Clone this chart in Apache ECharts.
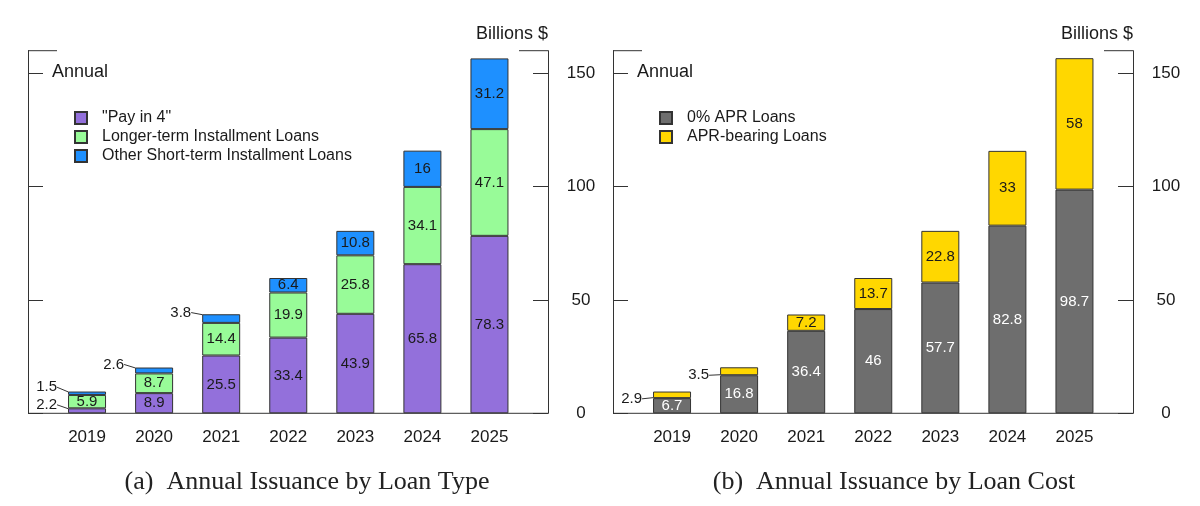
<!DOCTYPE html>
<html lang="en">
<head>
<meta charset="UTF-8" />
<title>Annual issuance</title>
<script src="https://cdn.jsdelivr.net/npm/echarts@6.0.0/dist/echarts.min.js"></script>
<style>
  html, body { margin: 0; padding: 0; background: #fff; }
  #chart { width: 1200px; height: 506px; }
</style>
</head>
<body>
<div id="chart"></div>
<script>
const years = ['2019', '2020', '2021', '2022', '2023', '2024', '2025'];
// (a) by loan type
const payIn4 = [2.2, 8.9, 25.5, 33.4, 43.9, 65.8, 78.3];
const longerTerm = [5.9, 8.7, 14.4, 19.9, 25.8, 34.1, 47.1];
const otherShort = [1.5, 2.6, 3.8, 6.4, 10.8, 16, 31.2];
// (b) by loan cost
const zeroApr = [6.7, 16.8, 36.4, 46, 57.7, 82.8, 98.7];
const aprBearing = [2.9, 3.5, 7.2, 13.7, 22.8, 33, 58];
const yTicks = [0, 50, 100, 150];

const FONT = '"Liberation Sans", Arial, sans-serif';
const INK = '#1a1a1a';
const TOP = 50.7, BOTTOM = 413.3;
const frames = [28, 613];   // left edge of each boxed panel
const FRAME_W = 520;

const chart = echarts.init(document.getElementById('chart'));

// small segments get their label pulled out to the left with a short leader
function sideLabel(indices, dy) {
    return function (p) {
        if (indices.indexOf(p.dataIndex) < 0) return {};
        return {
            x: p.rect.x - 11,
            y: p.rect.y + p.rect.height / 2 + dy,
            align: 'right',
            verticalAlign: 'middle'
        };
    };
}

function bar(name, values, color, panel, opts) {
    opts = opts || {};
    return {
        name: name,
        type: 'bar',
        stack: 'p' + panel,
        xAxisIndex: panel,
        yAxisIndex: panel * 2,
        barWidth: 38,
        data: values,
        itemStyle: { color: color, borderColor: '#333', borderWidth: 1 },
        label: {
            show: true,
            position: 'inside',
            fontFamily: FONT,
            fontSize: 15,
            color: opts.labelColor || INK
        },
        labelLine: { show: !!opts.outside, lineStyle: { color: '#333', width: 1 } },
        labelLayout: opts.outside ? sideLabel(opts.outside, opts.dy) : null,
        emphasis: { disabled: true }
    };
}

const grids = [], xAxes = [], yAxes = [], graphics = [];
frames.forEach(function (fx, i) {
    grids.push({ left: fx + 25.5, top: TOP, width: 469.5, height: BOTTOM - TOP });
    xAxes.push({
        type: 'category', gridIndex: i, data: years,
        axisLine: { show: false }, axisTick: { show: false },
        axisLabel: { color: INK, fontFamily: FONT, fontSize: 17, margin: 16 }
    });
    const axisBase = {
        type: 'value', gridIndex: i, min: 0, max: 160,
        splitLine: { show: false },
        axisLine: { show: true, lineStyle: { color: '#333', width: 1 } },
        axisTick: { show: true, inside: true, length: 15, customValues: yTicks,
            lineStyle: { color: '#333', width: 1 } }
    };
    yAxes.push(Object.assign({}, axisBase, {
        position: 'left', offset: 25.5, axisLabel: { show: false }
    }));
    yAxes.push(Object.assign({}, axisBase, {
        position: 'right', offset: 25,
        axisLabel: { show: true, customValues: yTicks, align: 'center', margin: 33,
            color: INK, fontFamily: FONT, fontSize: 17 }
    }));
    const line = { stroke: '#333', lineWidth: 1 };
    graphics.push(
        { type: 'line', shape: { x1: fx, y1: TOP, x2: fx + 29, y2: TOP }, style: line },
        { type: 'line', shape: { x1: fx + FRAME_W - 29, y1: TOP, x2: fx + FRAME_W, y2: TOP }, style: line },
        { type: 'line', shape: { x1: fx, y1: BOTTOM, x2: fx + FRAME_W, y2: BOTTOM }, style: line },
        { type: 'text', x: fx + FRAME_W, y: 34,
          style: { text: 'Billions $', fill: INK, font: '18px ' + FONT, textAlign: 'right', textVerticalAlign: 'middle' } },
        { type: 'text', x: fx + 24, y: 72,
          style: { text: 'Annual', fill: INK, font: '18px ' + FONT, textAlign: 'left', textVerticalAlign: 'middle' } }
    );
});

graphics.push(
    { type: 'text', x: 307, y: 482,
      style: { text: '(a)  Annual Issuance by Loan Type', fill: '#222', font: '26px "Liberation Serif", serif',
               textAlign: 'center', textVerticalAlign: 'middle' } },
    { type: 'text', x: 894, y: 482,
      style: { text: '(b)  Annual Issuance by Loan Cost', fill: '#222', font: '26px "Liberation Serif", serif',
               textAlign: 'center', textVerticalAlign: 'middle' } }
);

const legendBase = {
    orient: 'vertical', top: 105, itemWidth: 12, itemHeight: 12, itemGap: 3,
    icon: 'rect', selectedMode: false,
    textStyle: { color: INK, fontFamily: FONT, fontSize: 16, padding: [0, 0, 0, 10] }
};

chart.setOption({
    animation: false,
    grid: grids,
    xAxis: xAxes,
    yAxis: yAxes,
    legend: [
        Object.assign({}, legendBase, { left: 69,
            data: ['"Pay in 4"', 'Longer-term Installment Loans', 'Other Short-term Installment Loans'] }),
        Object.assign({}, legendBase, { left: 654, data: ['0% APR Loans', 'APR-bearing Loans'] })
    ],
    graphic: graphics,
    series: [
        bar('"Pay in 4"', payIn4, '#9370db', 0, { outside: [0], dy: -6 }),
        bar('Longer-term Installment Loans', longerTerm, '#98fb98', 0),
        bar('Other Short-term Installment Loans', otherShort, '#1e90ff', 0, { outside: [0, 1, 2], dy: -6 }),
        bar('0% APR Loans', zeroApr, '#6e6e6e', 1, { labelColor: '#fff' }),
        bar('APR-bearing Loans', aprBearing, '#ffd700', 1, { outside: [0, 1], dy: 4 })
    ]
});
</script>
</body>
</html>
